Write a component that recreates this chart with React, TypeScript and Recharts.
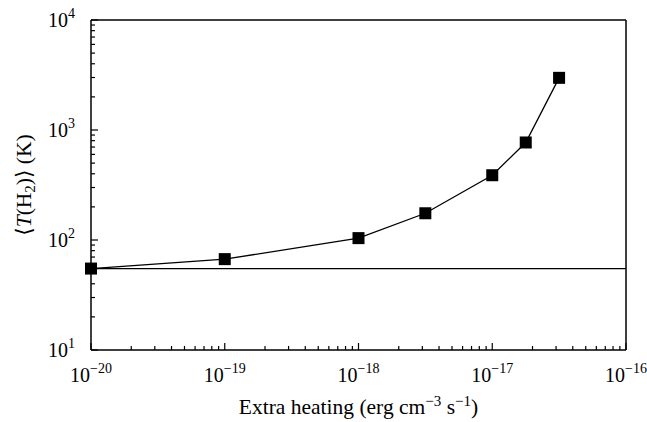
import React from 'react';
import { LineChart, Line, XAxis, YAxis, ReferenceLine } from 'recharts';

// extra heating rate (erg cm^-3 s^-1) and mean H2 temperature (K)
const heating = [1e-20, 1e-19, 1e-18, 3.16e-18, 1e-17, 1.78e-17, 3.16e-17];
const tempH2 = [55, 67, 104, 175, 388, 770, 2980];
const baseline = 55;

const xMajor = [1e-20, 1e-19, 1e-18, 1e-17, 1e-16];
const yMajor = [10, 100, 1000, 10000];

const FONT = "'Liberation Serif', 'DejaVu Serif', serif";
const txt = { fontFamily: FONT, fill: '#000' };

const withMinors = (majors: number[]) => {
  const out: number[] = [];
  majors.forEach((m, i) => {
    out.push(m);
    if (i < majors.length - 1) for (let k = 2; k <= 9; k++) out.push(m * k);
  });
  return out;
};

const isMajor = (v: number) => Math.abs(Math.log10(v) - Math.round(Math.log10(v))) < 1e-6;
const expo = (v: number) => Math.round(Math.log10(v));

const data = heating.map((x, i) => ({ x, t: tempH2[i] }));

const MAJ = 7;
const MIN = 4;

const XTick = (props: any) => {
  const { x, y, payload, side } = props;
  const v = payload.value;
  const len = isMajor(v) ? MAJ : MIN;
  const dir = side === 'top' ? 1 : -1;
  return (
    <g>
      <line x1={x} x2={x} y1={y} y2={y + dir * len} stroke="#000" strokeWidth={1.2} />
      {side !== 'top' && isMajor(v) && (
        <text x={x} y={y + 32} textAnchor="middle" style={{ ...txt, fontSize: 20 }}>
          10
          <tspan dy={-9} style={{ fontSize: 14 }}>{'\u2212' + Math.abs(expo(v))}</tspan>
        </text>
      )}
    </g>
  );
};

const YTick = (props: any) => {
  const { x, y, payload, side } = props;
  const v = payload.value;
  const len = isMajor(v) ? MAJ : MIN;
  const dir = side === 'right' ? -1 : 1;
  return (
    <g>
      <line x1={x} x2={x + dir * len} y1={y} y2={y} stroke="#000" strokeWidth={1.2} />
      {side !== 'right' && isMajor(v) && (
        <text x={x - 43} y={y + 7} textAnchor="start" style={{ ...txt, fontSize: 20 }}>
          10
          <tspan dy={-9} style={{ fontSize: 14 }}>{expo(v)}</tspan>
        </text>
      )}
    </g>
  );
};

const Square = (p: any) => (
  <rect key={`sq-${p.index}`} x={p.cx - 6} y={p.cy - 6} width={12} height={12} fill="#000" />
);

export default function App() {
  const xTicks = withMinors(xMajor);
  const yTicks = withMinors(yMajor);
  return (
    <div style={{ position: 'absolute', left: 0, top: 0, background: '#fff' }}>
      <LineChart width={647} height={422} data={data} margin={{ top: 0, right: 0, left: 0, bottom: 0 }}>
        <XAxis
          dataKey="x"
          type="number"
          scale="log"
          domain={[1e-20, 1e-16]}
          ticks={xTicks}
          interval={0}
          height={72}
          tickSize={0}
          tickMargin={0}
          tickLine={false}
          axisLine={{ stroke: '#000', strokeWidth: 1.5 }}
          tick={(p: any) => <XTick {...p} side="bottom" />}
          label={{
            content: (lp: any) => {
              const vb = lp.viewBox;
              return (
                <text x={vb.x + vb.width / 2} y={vb.y + 64} textAnchor="middle" style={{ ...txt, fontSize: 21.5 }}>
                  Extra heating (erg cm
                  <tspan dy={-8} style={{ fontSize: 15 }}>{'\u22123'}</tspan>
                  <tspan dy={8}>{'\u00A0s'}</tspan>
                  <tspan dy={-8} style={{ fontSize: 15 }}>{'\u22121'}</tspan>
                  <tspan dy={8}>)</tspan>
                </text>
              );
            },
          }}
        />
        <XAxis
          xAxisId="top"
          orientation="top"
          type="number"
          scale="log"
          domain={[1e-20, 1e-16]}
          ticks={xTicks}
          interval={0}
          height={20}
          tickSize={0}
          tickMargin={0}
          tickLine={false}
          axisLine={{ stroke: '#000', strokeWidth: 1.5 }}
          tick={(p: any) => <XTick {...p} side="top" />}
        />
        <YAxis
          dataKey="t"
          type="number"
          scale="log"
          domain={[10, 10000]}
          ticks={yTicks}
          interval={0}
          width={91}
          tickSize={0}
          tickMargin={0}
          tickLine={false}
          axisLine={{ stroke: '#000', strokeWidth: 1.5 }}
          tick={(p: any) => <YTick {...p} side="left" />}
          label={{
            content: (lp: any) => {
              const vb = lp.viewBox;
              const cx = vb.x + 31;
              const cy = vb.y + vb.height / 2;
              return (
                <text x={cx} y={cy} transform={`rotate(-90 ${cx} ${cy})`} textAnchor="middle" style={{ ...txt, fontSize: 21.5 }}>
                  {'\u27E8'}
                  <tspan style={{ fontStyle: 'italic' }}>T</tspan>
                  <tspan>(H</tspan>
                  <tspan dy={4} style={{ fontSize: 15 }}>2</tspan>
                  <tspan dy={-4}>{')\u27E9 (K)'}</tspan>
                </text>
              );
            },
          }}
        />
        <YAxis
          yAxisId="right"
          orientation="right"
          type="number"
          scale="log"
          domain={[10, 10000]}
          ticks={yTicks}
          interval={0}
          width={21}
          tickSize={0}
          tickMargin={0}
          tickLine={false}
          axisLine={{ stroke: '#000', strokeWidth: 1.5 }}
          tick={(p: any) => <YTick {...p} side="right" />}
        />
        <ReferenceLine y={baseline} stroke="#000" strokeWidth={1.3} />
        <Line
          dataKey="t"
          stroke="#000"
          strokeWidth={1.3}
          dot={Square}
          activeDot={false}
          isAnimationActive={false}
        />
      </LineChart>
    </div>
  );
}
